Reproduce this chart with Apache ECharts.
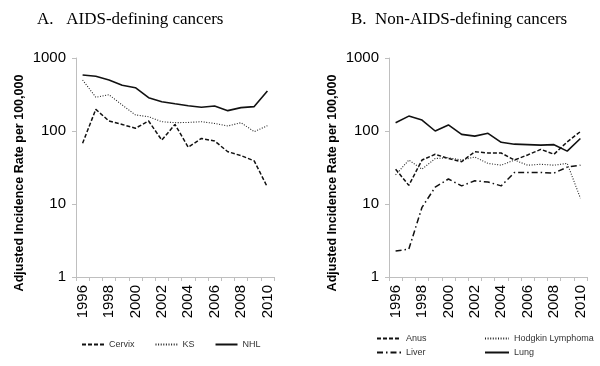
<!DOCTYPE html>
<html>
<head>
<meta charset="utf-8">
<script src="https://cdn.jsdelivr.net/npm/echarts@6/dist/echarts.min.js"></script>
<style>
html,body{margin:0;padding:0;background:#fff;}
#main{width:600px;height:366px;}
</style>
</head>
<body>
<div id="main"></div>
<script>
var years = ['1996','1997','1998','1999','2000','2001','2002','2003','2004','2005','2006','2007','2008','2009','2010'];
var yTicks = [1, 10, 100, 1000];

// panel A
var cervix = [68,198,137,123,109,137,75,123,60,79,73,52,46,39,17];
var ks     = [500,290,314,227,166,157,134,130,131,134,127,117,130,98,118];
var nhl    = [585,561,500,423,392,286,252,236,222,212,220,190,209,216,353];

// panel B
var anus    = [30,18,40,48,42,38,52,50,50,40,47,56,48,71,98];
var hodgkin = [25,40,30,42,43,40,44,36,34,40,34,35,34,36,12];
var liver   = [2.27,2.4,9,17,22,17.7,20.8,20,17.7,27,27,27,26.5,32,34];
var lung    = [130,160,141,100,121,90,85,93,70,66,65,64,65,53,79];

var axisGray = '#bfbfbf';
var sans = 'Liberation Sans';

function xAxisFor(idx){
    return {
        type : 'category',
        gridIndex : idx,
        data : years,
        boundaryGap : true,
        axisLine : {lineStyle:{color:axisGray}},
        axisTick : {show:true, interval:0, length:4, lineStyle:{color:axisGray}},
        axisLabel : {interval:1, rotate:90, margin:8, color:'#000', fontSize:15, fontFamily:sans},
        splitLine : {show:false}
    };
}
function yAxisFor(idx){
    return {
        type : 'log',
        gridIndex : idx,
        logBase : 10,
        min : yTicks[0],
        max : yTicks[yTicks.length-1],
        axisLine : {show:true, lineStyle:{color:axisGray}},
        axisTick : {show:true, length:4, lineStyle:{color:axisGray}},
        axisLabel : {color:'#000', fontSize:15, fontFamily:sans, margin:10,
                     formatter:function(v){ return String(v); }},
        minorTick : {show:false},
        splitLine : {show:false}
    };
}
function line(name, data, idx, type, width, color){
    return {
        name : name,
        type : 'line',
        xAxisIndex : idx,
        yAxisIndex : idx,
        data : data,
        symbol : 'none',
        animation : false,
        lineStyle : {color:color, width:width, type:type},
        itemStyle : {color:color}
    };
}
function legendText(){
    return {fontSize:9, color:'#333', fontFamily:sans};
}
var yName = 'Adjusted Incidence Rate per 100,000';

var myChart = echarts.init(document.getElementById('main'));
var option = {
    backgroundColor : '#fff',
    animation : false,
    title : [
        {text:'A.   AIDS-defining cancers', left:32, top:6,
         textStyle:{fontFamily:'Liberation Serif', fontWeight:'normal', fontSize:17, color:'#000'}},
        {text:'B.  Non-AIDS-defining cancers', left:346, top:6,
         textStyle:{fontFamily:'Liberation Serif', fontWeight:'normal', fontSize:17, color:'#000'}}
    ],
    graphic : [
        {type:'text', x:20, y:183, rotation:Math.PI/2,
         style:{text:yName, fontSize:12.5, fontWeight:'bold', fontFamily:sans, fill:'#000', align:'center', verticalAlign:'middle'}},
        {type:'text', x:333, y:183, rotation:Math.PI/2,
         style:{text:yName, fontSize:12.5, fontWeight:'bold', fontFamily:sans, fill:'#000', align:'center', verticalAlign:'middle'}}
    ],
    grid : [
        {left:76, top:58, width:198, height:219},
        {left:389, top:58, width:198, height:219}
    ],
    xAxis : [xAxisFor(0), xAxisFor(1)],
    yAxis : [yAxisFor(0), yAxisFor(1)],
    legend : [
        {data:['Cervix','KS','NHL'], left:76, top:335, itemWidth:22, itemHeight:8, itemGap:20,
         itemStyle:{opacity:0}, textStyle:legendText()},
        {data:['Anus','Liver'], orient:'vertical', left:371, top:329, itemWidth:24, itemHeight:8, itemGap:5,
         itemStyle:{opacity:0}, textStyle:legendText()},
        {data:['Hodgkin Lymphoma','Lung'], orient:'vertical', left:479, top:329, itemWidth:24, itemHeight:8, itemGap:5,
         itemStyle:{opacity:0}, textStyle:legendText()}
    ],
    series : [
        line('Cervix', cervix, 0, [4,2], 1.5, '#111'),
        line('KS', ks, 0, [1,1.6], 1.1, '#222'),
        line('NHL', nhl, 0, 'solid', 1.6, '#111'),
        line('Anus', anus, 1, [4,2], 1.5, '#111'),
        line('Hodgkin Lymphoma', hodgkin, 1, [1,1.6], 1.1, '#222'),
        line('Liver', liver, 1, [6,3,1.5,3], 1.5, '#111'),
        line('Lung', lung, 1, 'solid', 1.6, '#111')
    ]
};
myChart.setOption(option);
</script>
</body>
</html>
